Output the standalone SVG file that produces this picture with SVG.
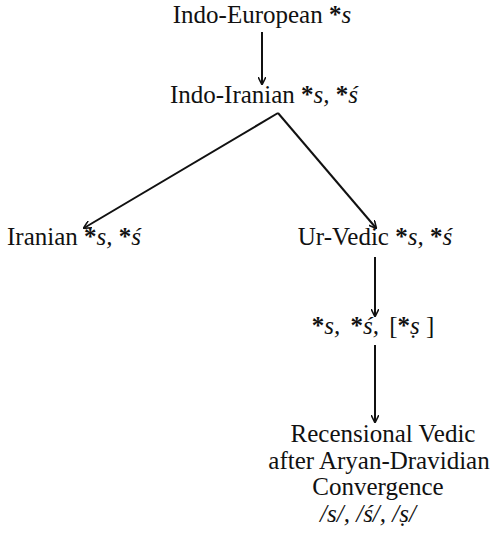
<svg xmlns="http://www.w3.org/2000/svg" width="496" height="545" viewBox="0 0 496 545">
<style>
.t{font-size:25px;fill:#111;text-anchor:middle}
.i{font-style:italic}
.a{font-weight:bold;font-style:normal}
.c{stroke:#111;stroke-width:2;fill:none}
</style>
<defs>
<marker id="ah" viewBox="0 0 10 10" refX="9" refY="5" markerWidth="8" markerHeight="8" markerUnits="userSpaceOnUse" orient="auto"><path d="M0,0 L10,5 L0,10" fill="none" stroke="#111" stroke-width="2"/></marker>
</defs>
<rect width="496" height="545" fill="#fff"/>
<g id="connectors">
<line class="c" x1="262" y1="32" x2="262" y2="84" marker-end="url(#ah)"/>
<line class="c" x1="278" y1="113" x2="84" y2="228" marker-end="url(#ah)"/>
<line class="c" x1="278" y1="113" x2="376" y2="228" marker-end="url(#ah)"/>
<line class="c" x1="375" y1="257" x2="375" y2="316" marker-end="url(#ah)"/>
<line class="c" x1="375" y1="345" x2="375" y2="422" marker-end="url(#ah)"/>
</g>
<g font-family="Liberation Serif, Times New Roman, serif">
<g id="n1"><text class="t" x="262" y="23">Indo-European <tspan class="a">*</tspan><tspan class="i">s</tspan></text></g>
<g id="n2"><text class="t" x="264" y="103">Indo-Iranian <tspan class="a">*</tspan><tspan class="i">s,</tspan> <tspan class="a">*</tspan><tspan class="i">ś</tspan></text></g>
<g id="n3"><text class="t" x="7" y="245" style="text-anchor:start">Iranian <tspan class="a">*</tspan><tspan class="i">s,</tspan> <tspan class="a">*</tspan><tspan class="i">ś</tspan></text></g>
<g id="n4"><text class="t" x="375" y="245">Ur-Vedic <tspan class="a">*</tspan><tspan class="i">s,</tspan> <tspan class="a">*</tspan><tspan class="i">ś</tspan></text></g>
<g id="n5"><text class="t" x="373" y="334"><tspan class="a">*</tspan><tspan class="i">s,</tspan> <tspan class="a" dx="4">*</tspan><tspan class="i">ś,</tspan> <tspan dx="4">[</tspan><tspan class="a">*</tspan><tspan class="i">ṣ</tspan> ]</text></g>
<g id="n6">
<text class="t" x="383" y="442">Recensional Vedic</text>
<text class="t" x="379" y="469">after Aryan-Dravidian</text>
<text class="t" x="378" y="495">Convergence</text>
<text class="t i" x="368" y="522">/s/, /ś/, /ṣ/</text>
</g>
</g>
</svg>
